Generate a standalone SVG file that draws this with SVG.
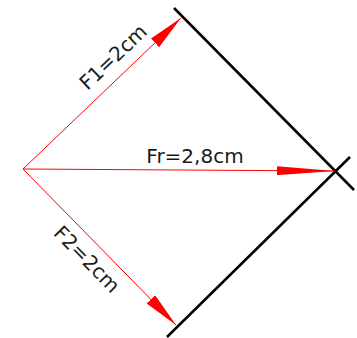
<svg xmlns="http://www.w3.org/2000/svg" width="357" height="338" viewBox="0 0 357 338">
<style>
.vec{stroke:#ff0000;stroke-width:1;fill:none}
.wall{stroke:#000;stroke-width:2.5;fill:none}
.lbl{font-family:"DejaVu Sans",sans-serif;font-size:20px;fill:#1a1a1a;text-anchor:middle}
</style>
<defs>
<marker id="ah" viewBox="0 0 36 12" refX="36" refY="6" markerWidth="36" markerHeight="12" markerUnits="userSpaceOnUse" orient="auto">
<path d="M0,0 L36,6 L0,12 Z" fill="#ff0000"/>
</marker>
<marker id="ahr" viewBox="0 0 58 9" refX="58" refY="4.5" markerWidth="58" markerHeight="9" markerUnits="userSpaceOnUse" orient="auto">
<path d="M0,0 L58,4.5 L0,9 Z" fill="#ff0000"/>
</marker>
</defs>
<g id="walls">
<line class="wall" x1="174" y1="8" x2="354" y2="190"/>
<line class="wall" x1="167" y1="337" x2="350" y2="157"/>
</g>
<g id="connectors">
<line id="F1" class="vec" x1="23" y1="169" x2="181" y2="18" marker-end="url(#ah)"/>
<line id="F2" class="vec" x1="23" y1="169" x2="176" y2="325" marker-end="url(#ah)"/>
<line id="Fr" class="vec" x1="23" y1="169" x2="335" y2="171" marker-end="url(#ahr)"/>
</g>
<g id="labels">
<text class="lbl" transform="translate(118,62) rotate(-43.7)">F1=2cm</text>
<text class="lbl" transform="translate(82,264) rotate(45.5)">F2=2cm</text>
<text class="lbl" x="195" y="163">Fr=2,8cm</text>
</g>
</svg>
